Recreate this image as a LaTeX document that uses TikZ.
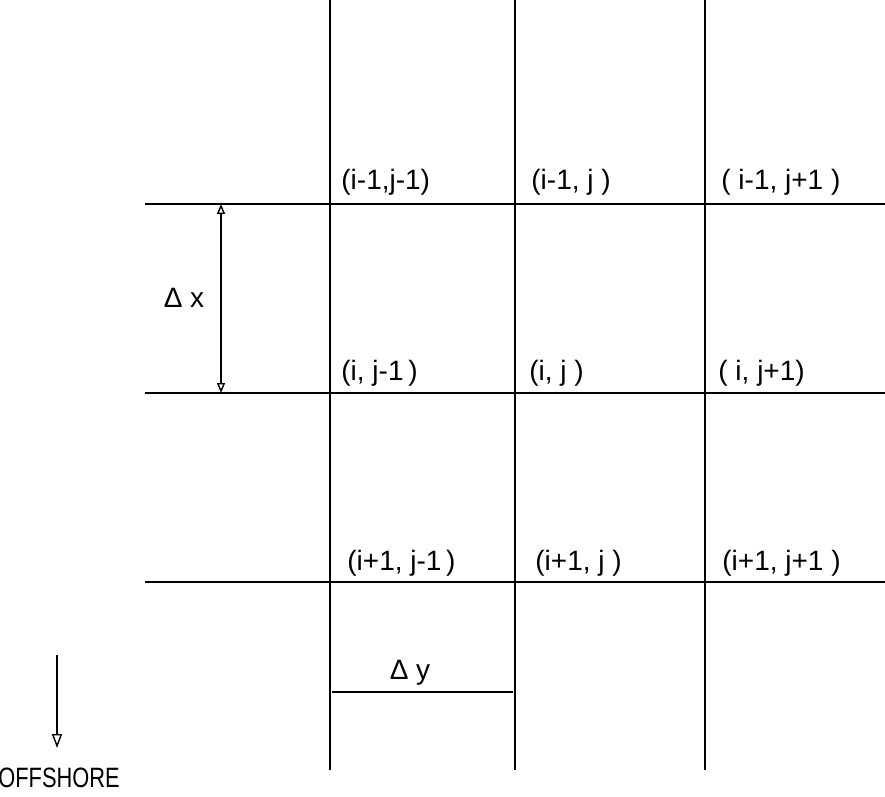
\documentclass[tikz,border=0pt]{standalone}
\usepackage{fontspec}
\setmainfont{Liberation Sans}
\usetikzlibrary{arrows.meta}
\begin{document}
\begin{tikzpicture}[x=0.5pt, y=-0.5pt,
    font=\fontsize{14}{16}\selectfont,
    gridline/.style={line width=0.8pt},
    point/.style={anchor=base west, inner sep=0pt},
    dimarrow/.style={line width=0.7pt, {Triangle[open,length=5pt,width=4pt]}-{Triangle[open,length=5pt,width=4pt]}}]
  \useasboundingbox (0,0) rectangle (885,797);
  % grid
  \foreach \x in {330,515,705}
    \draw [gridline] (\x,0) -- (\x,770);
  \foreach \y in {204,393,582}
    \draw [gridline] (145,\y) -- (885,\y);
  % grid points
  \node [point] (p11) at (341,190) {(i-1,j-1)};
  \node [point] (p12) at (531,190) {(i-1, j )};
  \node [point] (p13) at (721,190) {( i-1, j+1 )};
  \node [point] (p21) at (341,380) {(i, j-1\,)};
  \node [point] (p22) at (529,380) {(i, j )};
  \node [point] (p23) at (718,380) {( i, j+1)};
  \node [point] (p31) at (347,570) {(i+1, j-1\,)};
  \node [point] (p32) at (535,570) {(i+1, j )};
  \node [point] (p33) at (722,570) {(i+1, j+1 )};
  % spacing
  \coordinate (dxtop) at (221,204);
  \coordinate (dxbot) at (221,393);
  \draw [dimarrow] (dxtop) -- (dxbot);
  \node (dx) at (184,298) {Δ x};
  \coordinate (dyleft) at (332,692);
  \coordinate (dyright) at (513,692);
  \draw [gridline] (dyleft) -- (dyright);
  \node (dy) at (410,673) {Δ y};
  % direction
  \node (offshore) at (59,778) {\scalebox{0.78}[1]{OFFSHORE}};
  \coordinate (shore) at (57,655);
  \coordinate (sea) at (57,748);
  \draw [line width=0.7pt, -{Triangle[open,length=7pt,width=5pt]}]
    (shore) -- (sea);
\end{tikzpicture}
\end{document}
